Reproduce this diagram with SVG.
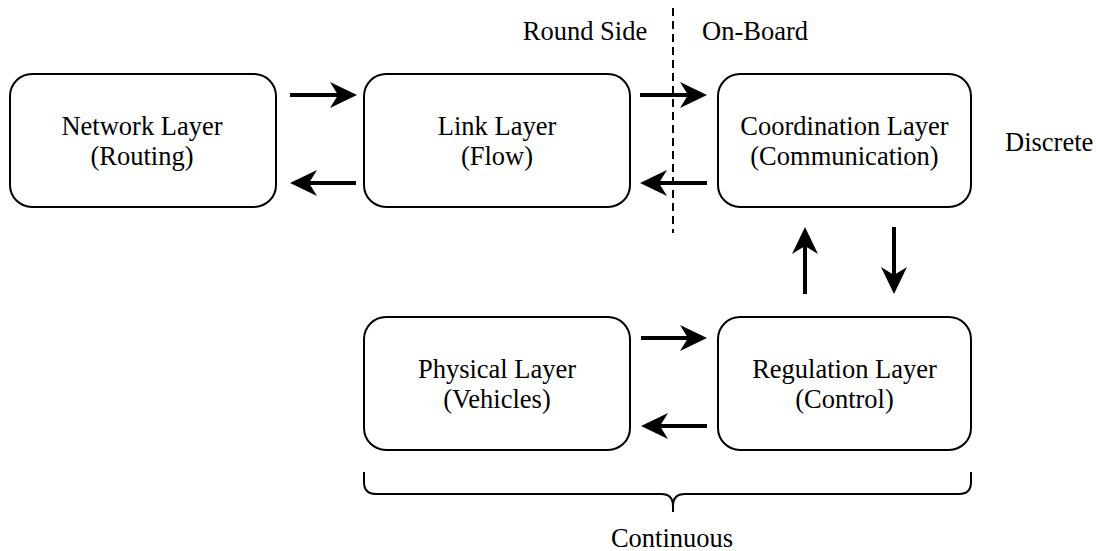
<svg xmlns="http://www.w3.org/2000/svg" xmlns:xlink="http://www.w3.org/1999/xlink" width="1096" height="551" viewBox="0 0 1096 551">
  <style>
    .box { fill: #fff; stroke: #000; stroke-width: 2; }
    .lbl { font-family: "Liberation Serif", "Times New Roman", serif; font-size: 26.5px; fill: #000; }
    .mid { text-anchor: middle; }
    .shaft { stroke: #000; stroke-width: 4; fill: none; }
  </style>
  <defs>
    <!-- arrowhead pointing right, tip at the origin -->
    <path id="ah" d="M-27,-13 L0,0 L-27,13 L-19,0 Z" fill="#000"/>
  </defs>
  <rect width="1096" height="551" fill="#fff"/>

  <!-- ground / vehicle boundary -->
  <line x1="673" y1="8" x2="673" y2="233" stroke="#000" stroke-width="2" stroke-dasharray="8,5"/>
  <text class="lbl mid" x="585" y="40">Round Side</text>
  <text class="lbl" x="702" y="40">On-Board</text>
  <text class="lbl" x="1005" y="151">Discrete</text>

  <g id="network">
    <rect class="box" x="10" y="74" width="266" height="133" rx="22"/>
    <text class="lbl mid" x="142" y="135">Network Layer</text>
    <text class="lbl mid" x="142" y="165">(Routing)</text>
  </g>
  <g id="link">
    <rect class="box" x="364" y="74" width="266" height="133" rx="22"/>
    <text class="lbl mid" x="497" y="135">Link Layer</text>
    <text class="lbl mid" x="497" y="165">(Flow)</text>
  </g>
  <g id="coordination">
    <rect class="box" x="718" y="74" width="253" height="133" rx="22"/>
    <text class="lbl mid" x="844.5" y="135">Coordination Layer</text>
    <text class="lbl mid" x="844.5" y="165">(Communication)</text>
  </g>
  <g id="physical">
    <rect class="box" x="364" y="317" width="266" height="133" rx="22"/>
    <text class="lbl mid" x="497" y="378">Physical Layer</text>
    <text class="lbl mid" x="497" y="408">(Vehicles)</text>
  </g>
  <g id="regulation">
    <rect class="box" x="718" y="317" width="253" height="133" rx="22"/>
    <text class="lbl mid" x="844.5" y="378">Regulation Layer</text>
    <text class="lbl mid" x="844.5" y="408">(Control)</text>
  </g>

  <g id="connectors">
    <!-- network <-> link -->
    <line class="shaft" x1="290" y1="95" x2="340" y2="95"/>
    <use href="#ah" xlink:href="#ah" transform="translate(357,95)"/>
    <line class="shaft" x1="356" y1="183" x2="307" y2="183"/>
    <use href="#ah" xlink:href="#ah" transform="translate(290,183) rotate(180)"/>
    <!-- link <-> coordination -->
    <line class="shaft" x1="640" y1="95" x2="690" y2="95"/>
    <use href="#ah" xlink:href="#ah" transform="translate(707,95)"/>
    <line class="shaft" x1="707" y1="183" x2="657" y2="183"/>
    <use href="#ah" xlink:href="#ah" transform="translate(640,183) rotate(180)"/>
    <!-- regulation <-> coordination -->
    <line class="shaft" x1="805" y1="294" x2="805" y2="244"/>
    <use href="#ah" xlink:href="#ah" transform="translate(805,227) rotate(-90)"/>
    <line class="shaft" x1="894" y1="227" x2="894" y2="277"/>
    <use href="#ah" xlink:href="#ah" transform="translate(894,294) rotate(90)"/>
    <!-- physical <-> regulation -->
    <line class="shaft" x1="641" y1="338" x2="690" y2="338"/>
    <use href="#ah" xlink:href="#ah" transform="translate(707,338)"/>
    <line class="shaft" x1="707" y1="426" x2="658" y2="426"/>
    <use href="#ah" xlink:href="#ah" transform="translate(641,426) rotate(180)"/>
  </g>

  <!-- continuous-domain brace -->
  <path d="M364,472 V482 Q364,494 376,494 H661 Q673,494 673,506 V512 M673,506 Q673,494 685,494 H959 Q971,494 971,482 V472" fill="none" stroke="#000" stroke-width="2"/>
  <text class="lbl mid" x="672" y="547">Continuous</text>
</svg>
